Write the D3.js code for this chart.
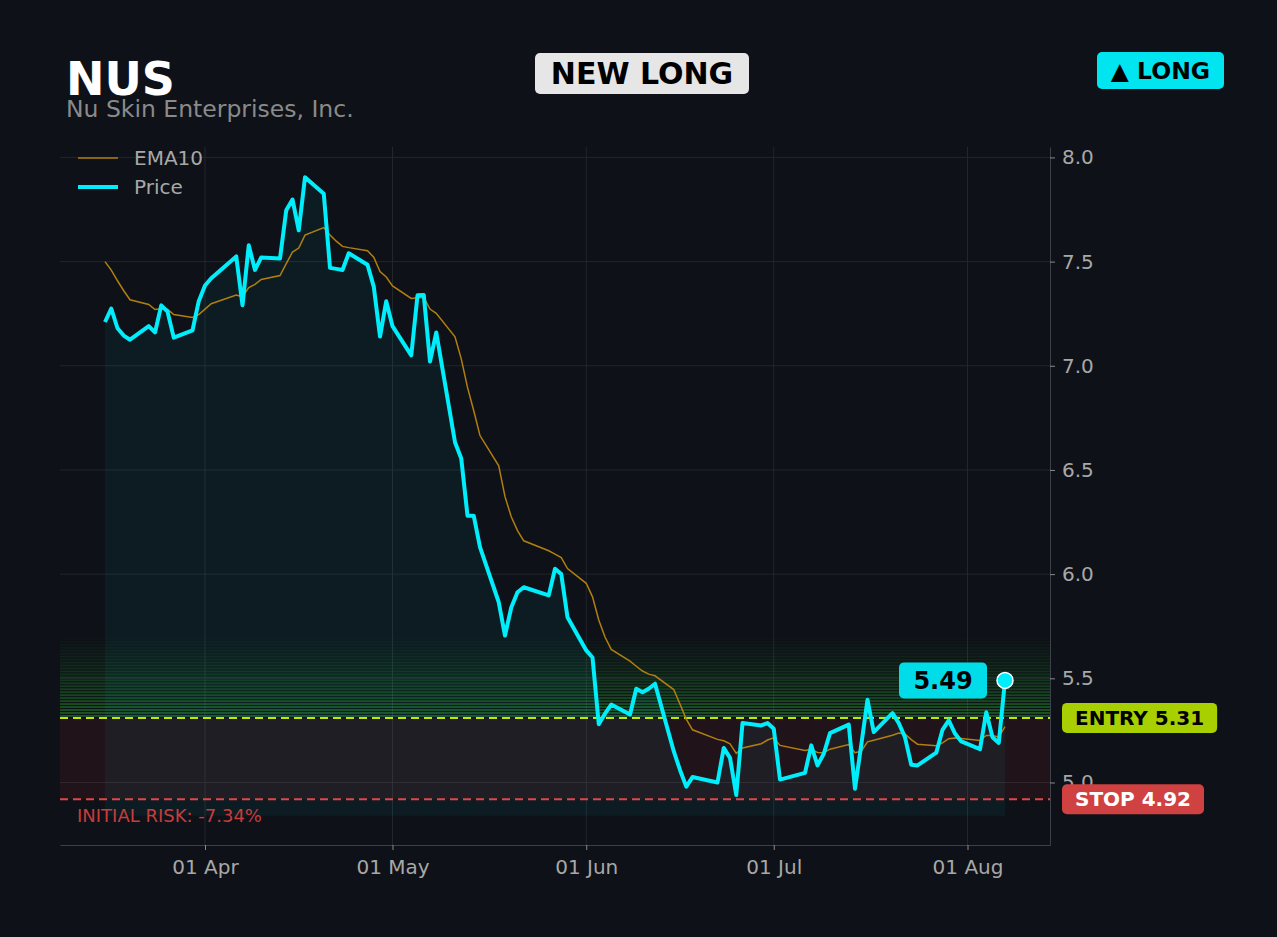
<!DOCTYPE html>
<html>
<head>
<meta charset="utf-8">
<script src="https://cdn.jsdelivr.net/npm/d3@7"></script>
<style>
  body { margin: 0; background: #0e1117; }
  svg { display: block; font-family: "DejaVu Sans", sans-serif; }
</style>
</head>
<body>
<script>
const WIDTH  = 1277;
const HEIGHT = 937;
const PLOT = {left: 60, right: 1050, top: 147, bottom: 845};

// Textos de la cabecera.
const TICKER  = 'NUS';
const COMPANY = 'Nu Skin Enterprises, Inc.';
const SIGNAL  = 'NEW LONG';
const SIDE    = '\u25B2 LONG';

// Días de mercado: lunes a viernes, menos los feriados.
const FIRST_DAY = '2026-03-16';
const LAST_DAY  = '2026-08-07';
const HOLIDAYS  = ['2026-04-03', '2026-05-25', '2026-06-19', '2026-07-03'];

// Precio de cierre, un valor por día de mercado.
const PRICE = [
  7.21, 7.275, 7.18, 7.145, 7.125,
  7.19, 7.16, 7.29, 7.26, 7.135,
  7.17, 7.31, 7.385, 7.42,
  7.525, 7.29, 7.578, 7.46, 7.52,
  7.515, 7.746, 7.798, 7.65, 7.905,
  7.826, 7.47, 7.465, 7.46, 7.54,
  7.485, 7.38, 7.14, 7.31, 7.19,
  7.05, 7.338, 7.34, 7.02, 7.16,
  6.633, 6.555, 6.28, 6.28, 6.13,
  5.865, 5.705, 5.84, 5.913, 5.937,
  5.898, 6.026, 6.0, 5.793,
  5.634, 5.60, 5.28, 5.33, 5.374,
  5.326, 5.45, 5.433, 5.45, 5.474,
  5.15, 5.06, 4.98, 5.026,
  5.0, 5.166, 5.118, 4.94, 5.285,
  5.274, 5.285, 5.258, 5.014,
  5.046, 5.178, 5.082, 5.138, 5.237,
  5.278, 4.97, 5.18, 5.397, 5.242,
  5.333, 5.285, 5.217, 5.085, 5.082,
  5.143, 5.253, 5.298, 5.235, 5.197,
  5.16, 5.337, 5.217, 5.19, 5.49
];

// Media móvil exponencial de 10 días.
const EMA10 = [
  7.500, 7.459, 7.408, 7.360, 7.317,
  7.294, 7.270, 7.274, 7.271, 7.246,
  7.232, 7.246, 7.272, 7.298,
  7.340, 7.331, 7.375, 7.391, 7.414,
  7.433, 7.490, 7.546, 7.565, 7.627,
  7.663, 7.628, 7.598, 7.573, 7.567,
  7.552, 7.521, 7.452, 7.426, 7.383,
  7.323, 7.326, 7.328, 7.272, 7.252,
  7.139, 7.033, 6.896, 6.784, 6.665,
  6.520, 6.372, 6.275, 6.209, 6.160,
  6.112, 6.096, 6.079, 6.027,
  5.956, 5.891, 5.780, 5.698, 5.639,
  5.582, 5.558, 5.535, 5.520, 5.512,
  5.446, 5.376, 5.304, 5.253,
  5.207, 5.200, 5.185, 5.140, 5.166,
  5.186, 5.204, 5.214, 5.178,
  5.154, 5.158, 5.144, 5.143, 5.160,
  5.182, 5.143, 5.150, 5.195, 5.203,
  5.227, 5.237, 5.233, 5.206, 5.184,
  5.176, 5.190, 5.210, 5.214, 5.211,
  5.202, 5.226, 5.225, 5.218, 5.268
];

const ENTRY = 5.31;
const STOP  = 4.92;
const FILL_FLOOR = 4.84;
const Y_DOMAIN = [4.70, 8.05];
const Y_TICKS  = [5.0, 5.5, 6.0, 6.5, 7.0, 7.5, 8.0];
const X_TICKS  = ['2026-04-01', '2026-05-01', '2026-06-01', '2026-07-01', '2026-08-01'];

const CYAN = '#00eefc';
const GOLD = '#b07f10';
const LIME = '#c6e600';
const RED  = '#e04848';

const parse = d3.timeParse('%Y-%m-%d');
const fmt   = d3.timeFormat('%Y-%m-%d');

const days = d3.timeDay.range(parse(FIRST_DAY), d3.timeDay.offset(parse(LAST_DAY), 1))
    .filter(d => d.getDay() % 6 !== 0 && !HOLIDAYS.includes(fmt(d)));

const rows = days.map((date, i) => ({date, price: PRICE[i], ema: EMA10[i]}));
const last = rows[rows.length - 1];

// El eje x deja un 5% de margen a cada lado, como hace matplotlib.
const t0 = days[0].getTime();
const t1 = days[days.length - 1].getTime();
const pad = (t1 - t0) * 0.05;
const x = d3.scaleTime()
    .domain([new Date(t0 - pad), new Date(t1 + pad)])
    .range([PLOT.left, PLOT.right]);
const y = d3.scaleLinear()
    .domain(Y_DOMAIN)
    .range([PLOT.bottom, PLOT.top]);

const svg = d3.select('body').append('svg')
    .attr('width', WIDTH)
    .attr('height', HEIGHT);

svg.append('rect')
    .attr('width', WIDTH).attr('height', HEIGHT)
    .attr('fill', '#0e1117');

svg.append('clipPath').attr('id', 'plot-clip')
  .append('rect')
    .attr('x', PLOT.left).attr('y', PLOT.top)
    .attr('width', PLOT.right - PLOT.left)
    .attr('height', PLOT.bottom - PLOT.top);

const plot = svg.append('g').attr('clip-path', 'url(#plot-clip)');

// Rejilla.
plot.selectAll('.hgrid')
    .data(Y_TICKS)
    .enter()
  .append('line')
    .attr('x1', PLOT.left).attr('x2', PLOT.right)
    .attr('y1', d => y(d)).attr('y2', d => y(d))
    .attr('stroke', '#22262d').attr('stroke-width', 1);

plot.selectAll('.vgrid')
    .data(X_TICKS.map(parse))
    .enter()
  .append('line')
    .attr('x1', d => x(d)).attr('x2', d => x(d))
    .attr('y1', PLOT.top).attr('y2', PLOT.bottom)
    .attr('stroke', '#22262d').attr('stroke-width', 1);

// Franja verde sobre la entrada: bandas que se desvanecen hacia arriba.
const BANDS = 28;
const bandTop = ENTRY * 1.075;
const step = (bandTop - ENTRY) / BANDS;
plot.selectAll('.band')
    .data(d3.range(BANDS))
    .enter()
  .append('rect')
    .attr('x', PLOT.left)
    .attr('width', PLOT.right - PLOT.left)
    .attr('y', k => y(ENTRY + (k + 1) * step))
    .attr('height', k => y(ENTRY + k * step) - y(ENTRY + (k + 1) * step) - 1)
    .attr('fill', '#2cbc3a')
    .attr('fill-opacity', k => 0.40 * Math.pow(1 - k / BANDS, 1.1));

// Zona de riesgo entre la entrada y el stop.
plot.append('rect')
    .attr('x', PLOT.left)
    .attr('width', PLOT.right - PLOT.left)
    .attr('y', y(ENTRY))
    .attr('height', y(STOP) - y(ENTRY))
    .attr('fill', '#ff3838')
    .attr('fill-opacity', 0.08);

// Área bajo el precio.
const area = d3.area()
    .x(d => x(d.date))
    .y0(y(FILL_FLOOR))
    .y1(d => y(d.price));
plot.append('path')
    .datum(rows)
    .attr('d', area)
    .attr('fill', '#00e5ff')
    .attr('fill-opacity', 0.05);

// Líneas de entrada y stop.
[[ENTRY, LIME], [STOP, RED]].forEach(([v, color]) => {
    plot.append('line')
        .attr('x1', PLOT.left).attr('x2', PLOT.right)
        .attr('y1', y(v)).attr('y2', y(v))
        .attr('stroke', color)
        .attr('stroke-width', 2)
        .attr('stroke-dasharray', '8,5');
});

// EMA y precio.
plot.append('path')
    .datum(rows)
    .attr('d', d3.line().x(d => x(d.date)).y(d => y(d.ema)))
    .attr('fill', 'none')
    .attr('stroke', GOLD)
    .attr('stroke-width', 1.5);

plot.append('path')
    .datum(rows)
    .attr('d', d3.line().x(d => x(d.date)).y(d => y(d.price)))
    .attr('fill', 'none')
    .attr('stroke', CYAN)
    .attr('stroke-width', 4)
    .attr('stroke-linejoin', 'round');

// Ejes.
const styleAxis = g => {
    g.select('.domain').attr('stroke', '#3c4048');
    g.selectAll('.tick line').attr('stroke', '#8a8a8a');
    g.selectAll('.tick text')
        .attr('fill', '#a8a8a8')
        .attr('font-size', 20)
        .attr('font-family', '"DejaVu Sans", sans-serif');
};

svg.append('g')
    .attr('transform', `translate(${PLOT.right},0)`)
    .call(d3.axisRight(y)
        .tickValues(Y_TICKS)
        .tickFormat(d3.format('.1f'))
        .tickSize(5)
        .tickSizeOuter(0)
        .tickPadding(7))
    .call(styleAxis);

svg.append('g')
    .attr('transform', `translate(0,${PLOT.bottom})`)
    .call(d3.axisBottom(x)
        .tickValues(X_TICKS.map(parse))
        .tickFormat(d3.timeFormat('%d %b'))
        .tickSize(5)
        .tickSizeOuter(0)
        .tickPadding(10))
    .call(styleAxis);

// Etiqueta con fondo redondeado; (cx, cy) es el centro.
const badge = (cx, cy, text, opts) => {
    const g = svg.append('g');
    const label = g.append('text')
        .attr('x', cx).attr('y', cy)
        .attr('dy', '0.36em')
        .attr('text-anchor', 'middle')
        .attr('font-size', opts.size)
        .attr('font-weight', 'bold')
        .attr('fill', opts.color)
        .text(text);
    const w = opts.width || label.node().getComputedTextLength() + 2 * opts.pad;
    g.insert('rect', 'text')
        .attr('x', cx - w / 2).attr('y', cy - opts.height / 2)
        .attr('width', w).attr('height', opts.height)
        .attr('rx', 5)
        .attr('fill', opts.fill);
    return w;
};

const leftBadge = (left, cy, text, opts) => {
    const probe = svg.append('text')
        .attr('font-size', opts.size).attr('font-weight', 'bold').text(text);
    const w = probe.node().getComputedTextLength() + 2 * opts.pad;
    probe.remove();
    badge(left + w / 2, cy, text, Object.assign({width: w}, opts));
};

leftBadge(PLOT.right + 12, y(ENTRY), `ENTRY ${ENTRY.toFixed(2)}`,
          {size: 20, pad: 13, height: 30, fill: '#a8d000', color: '#000'});
leftBadge(PLOT.right + 12, y(STOP), `STOP ${STOP.toFixed(2)}`,
          {size: 20, pad: 13, height: 30, fill: '#d04242', color: '#fff'});

const risk = (STOP - ENTRY) / ENTRY * 100;
svg.append('text')
    .attr('x', PLOT.left + 17)
    .attr('y', y(STOP) + 17)
    .attr('dy', '0.35em')
    .attr('font-size', 18)
    .attr('fill', '#c83c3c')
    .text(`INITIAL RISK: -${Math.abs(risk).toFixed(2)}%`);

// Último precio.
const lastX = x(last.date);
const lastY = y(last.price);
const priceW = 88;
badge(lastX - 18 - priceW / 2, lastY, last.price.toFixed(2),
      {size: 24, width: priceW, height: 36, fill: '#00dce8', color: '#000'});

svg.append('circle')
    .attr('cx', lastX).attr('cy', lastY)
    .attr('r', 8)
    .attr('fill', CYAN)
    .attr('stroke', '#fff')
    .attr('stroke-width', 1.5);

// Leyenda.
const legend = svg.append('g');
[['EMA10', GOLD, 1.5, 158], ['Price', CYAN, 4, 187]].forEach(([name, color, w, ly]) => {
    legend.append('line')
        .attr('x1', 78).attr('x2', 118)
        .attr('y1', ly).attr('y2', ly)
        .attr('stroke', color).attr('stroke-width', w);
    legend.append('text')
        .attr('x', 134).attr('y', ly)
        .attr('dy', '0.35em')
        .attr('font-size', 20)
        .attr('fill', '#a8a8a8')
        .text(name);
});

// Cabecera.
svg.append('text')
    .attr('x', 66).attr('y', 95)
    .attr('font-size', 46)
    .attr('font-weight', 'bold')
    .attr('fill', '#fff')
    .text(TICKER);

svg.append('text')
    .attr('x', 66).attr('y', 117)
    .attr('font-size', 23.5)
    .attr('fill', '#8a8a8a')
    .text(COMPANY);

badge(642, 73.5, SIGNAL, {size: 30, width: 214, height: 41, fill: '#e6e6e6', color: '#000'});
badge(1160.5, 70.5, SIDE, {size: 23.5, width: 127, height: 37, fill: '#00e5f0', color: '#000'});
</script>
</body>
</html>
